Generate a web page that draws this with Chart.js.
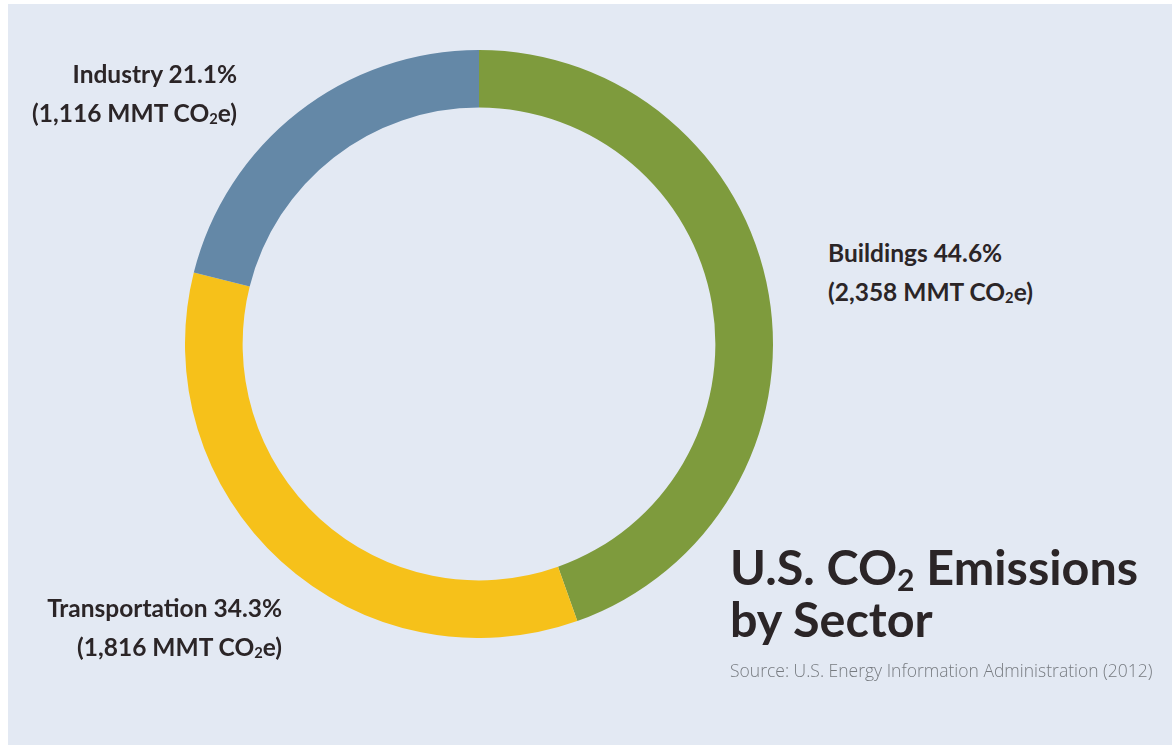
<!DOCTYPE html>
<html>
<head>
<meta charset="utf-8">
<title>U.S. CO2 Emissions by Sector</title>
<script src="https://cdn.jsdelivr.net/npm/chart.js@4"></script>
<style>
    html, body { margin: 0; padding: 0; background: #ffffff; }
    #page { position: relative; width: 1172px; height: 747px; overflow: hidden; }
    #panel { position: absolute; left: 8px; top: 4px; width: 1164px; height: 741px; background: #e3e9f3; }
    #chart-box { position: absolute; left: 185px; top: 50px; width: 588px; height: 588px; }
    .label { position: absolute; font-family: Lato, "Open Sans", sans-serif; font-weight: 700;
             font-size: 24.5px; line-height: 39px; color: #2b2527; white-space: nowrap; }
    .label sub { font-size: 0.6em; vertical-align: -0.15em; line-height: 0; }
    #title { position: absolute; left: 730px; top: 540px; font-family: Lato, "Open Sans", sans-serif;
             font-weight: 700; font-size: 48.5px; line-height: 52px; color: #2b2527; white-space: nowrap; }
    #title sub { font-size: 0.62em; vertical-align: -0.2em; line-height: 0; }
    #source { position: absolute; left: 730px; top: 658px; font-family: "Open Sans", sans-serif;
              font-weight: 300; font-size: 17.5px; color: #777b80; white-space: nowrap; }
</style>
</head>
<body>
<div id="page">
    <div id="panel"></div>
    <div id="chart-box"><canvas id="sector-chart"></canvas></div>
    <div id="labels"></div>
    <div id="title">U.S. CO<sub>2</sub> Emissions<br>by Sector</div>
    <div id="source">Source: U.S. Energy Information Administration (2012)</div>
</div>
<script>
// Data
const sectors = ['Buildings', 'Transportation', 'Industry'];
const emissions = [2358, 1816, 1116];          // MMT CO2e
const shares = ['44.6%', '34.3%', '21.1%'];
const sectorColors = ['#7e9b3d', '#f6c11a', '#6488a7'];

// Label placement (page pixels), one per sector
const labelBoxes = [
    { left: 828, top: 233, align: 'left' },
    { right: 890, top: 588, align: 'right' },
    { right: 935, top: 54, align: 'right' }
];

function buildLabels() {
    const holder = document.getElementById('labels');
    sectors.forEach((name, i) => {
        const box = labelBoxes[i];
        const div = document.createElement('div');
        div.className = 'label';
        div.style.top = box.top + 'px';
        div.style.textAlign = box.align;
        if (box.align === 'left') div.style.left = box.left + 'px';
        else div.style.right = box.right + 'px';
        const amount = emissions[i].toLocaleString('en-US');
        div.innerHTML = name + ' ' + shares[i] + '<br>(' + amount + ' MMT CO<sub>2</sub>e)';
        holder.appendChild(div);
    });
}

const ctx = document.getElementById('sector-chart');
new Chart(ctx, {
    type: 'doughnut',
    data: {
        labels: sectors,
        datasets: [{
            data: emissions,
            backgroundColor: sectorColors,
            borderWidth: 0
        }]
    },
    options: {
        responsive: true,
        maintainAspectRatio: false,
        animation: false,
        cutout: '80.4%',
        rotation: 0,
        layout: { padding: 0 },
        plugins: {
            legend: { display: false },
            tooltip: { enabled: false }
        }
    }
});

buildLabels();
</script>
</body>
</html>
